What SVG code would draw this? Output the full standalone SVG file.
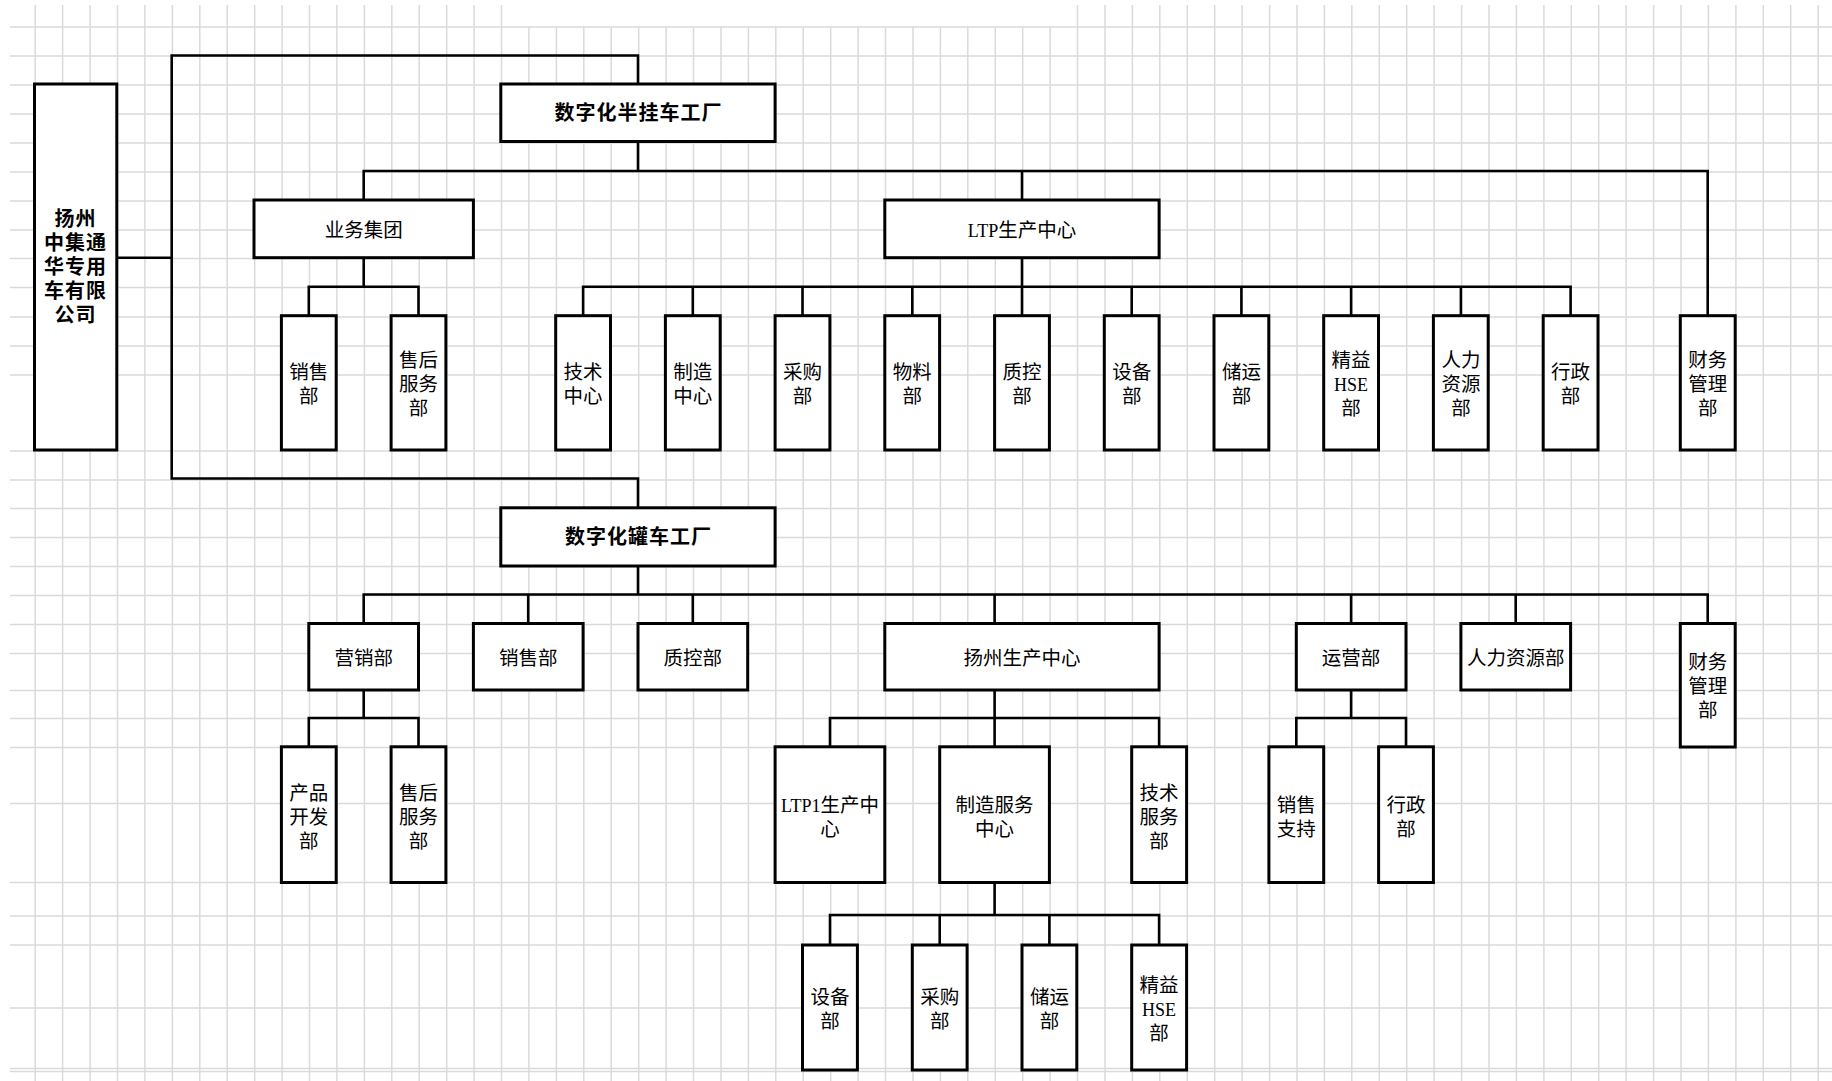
<svg xmlns="http://www.w3.org/2000/svg" width="1832" height="1081" viewBox="0 0 1832 1081">
<style>
.grid{fill:none;stroke:#dadada;stroke-width:1.5}
.node rect{fill:#fff;stroke:#000;stroke-width:3}
.conn path{fill:none;stroke:#000;stroke-width:2.6}
text{font-family:"Noto Sans CJK SC",sans-serif;font-size:19.5px;fill:#000;text-anchor:middle}
.lat{font-family:"Liberation Serif","Noto Sans CJK SC",serif;font-size:18px}
.b text{font-weight:bold;font-size:20px;letter-spacing:1px}
</style>
<rect x="0" y="0" width="1832" height="1081" fill="#fff"/>
<path class="grid" d="M35.2 5V1081M62.6 5V1081M90.1 5V1081M117.5 5V1081M144.9 5V1081M172.4 5V1081M199.8 5V1081M227.2 5V1081M254.7 5V1081M282.1 5V1081M309.5 5V1081M336.9 5V1081M364.4 5V1081M391.8 5V1081M419.2 5V1081M446.7 5V1081M474.1 5V1081M501.5 5V1081M528.9 27V1081M556.4 27V1081M583.8 27V1081M611.2 27V1081M638.7 27V1081M666.1 27V1081M693.5 27V1081M721 27V1081M748.4 27V1081M775.8 27V1081M803.2 27V1081M830.7 27V1081M858.1 27V1081M885.5 27V1081M913 27V1081M940.4 27V1081M967.8 27V1081M995.3 27V1081M1022.7 27V1081M1050.1 27V1081M1077.5 5V1081M1105 5V1081M1132.4 5V1081M1159.8 5V1081M1187.3 5V1081M1214.7 5V1081M1242.1 5V1081M1269.6 5V1081M1297 5V1081M1324.4 5V1081M1351.8 5V1081M1379.3 5V1081M1406.7 5V1081M1434.1 5V1081M1461.6 5V1081M1489 5V1081M1516.4 5V1081M1543.9 5V1081M1571.3 5V1081M1598.7 5V1081M1626.1 5V1081M1653.6 5V1081M1681 5V1081M1708.4 5V1081M1735.9 5V1081M1763.3 5V1081M1790.7 5V1081M1818.2 5V1081"/>
<path class="grid" d="M10 27H1832M10 56H1832M10 85H1832M10 114H1832M10 143H1832M10 172H1832M10 201H1832M10 230H1832M10 258.5H1832M10 287.5H1832M10 317H1832M10 346H1832M10 375H1832M10 451H1832M10 480H1832M10 508.5H1832M10 537.5H1832M10 566.5H1832M10 595.5H1832M10 624.5H1832M10 653.5H1832M10 690.5H1832M10 718.5H1832M10 747.5H1832M10 803.5H1832M10 882.5H1832M10 916H1832M10 945H1832M10 1008H1832M10 1068.5H1832M10 1071.5H1832"/>

<g class="conn" id="connectors">
<path d="M116.8 257.7H171.7"/>
<path d="M638 84V55.5H171.7V478.5H638V507.8"/>
<path d="M638 141.5V171"/>
<path d="M363.7 200V171H1707.7V315.7"/>
<path d="M1022 171V200"/>
<path d="M363.7 257.7V286.7"/>
<path d="M308.8 315.7V286.7H418.5V315.7"/>
<path d="M1022 257.7V286.7"/>
<path d="M583.1 315.7V286.7H1570.6V315.7"/>
<path d="M692.8 286.7V315.7M802.5 286.7V315.7M912.3 286.7V315.7M1022 286.7V315.7M1131.7 286.7V315.7M1241.4 286.7V315.7M1351.1 286.7V315.7M1460.9 286.7V315.7"/>
<path d="M638 566V594.5"/>
<path d="M363.7 623.5V594.5H1707.7V623.5"/>
<path d="M528.2 594.5V623.5M692.8 594.5V623.5M994.6 594.5V623.5M1351.1 594.5V623.5M1515.7 594.5V623.5"/>
<path d="M363.7 690V718"/>
<path d="M308.8 746.8V718H418.5V746.8"/>
<path d="M994.6 690V746.8"/>
<path d="M830 746.8V718H1159.1V746.8"/>
<path d="M994.6 882.5V915"/>
<path d="M830 945V915H1159.1V945"/>
<path d="M939.7 915V945M1049.4 915V945"/>
<path d="M1351.1 690V718"/>
<path d="M1296.3 746.8V718H1406V746.8"/>
</g>

<g class="node b" id="n-company"><rect x="34.5" y="84" width="82.3" height="366"/>
<text x="75.6" y="226">扬州<tspan x="75.6" dy="24">中集通</tspan><tspan x="75.6" dy="24">华专用</tspan><tspan x="75.6" dy="24">车有限</tspan><tspan x="75.6" dy="24">公司</tspan></text></g>

<g class="node b" id="n-semitrailer"><rect x="500.8" y="84" width="274.3" height="57.5"/><text x="638.5" y="120">数字化半挂车工厂</text></g>
<g class="node" id="n-business"><rect x="254" y="200" width="219.4" height="57.7"/><text x="363.7" y="236.5">业务集团</text></g>
<g class="node" id="n-ltp"><rect x="884.8" y="200" width="274.3" height="57.7"/><text x="1022" y="236.5"><tspan class="lat">LTP</tspan>生产中心</text></g>

<g class="node" id="n-sales1"><rect x="281.4" y="315.7" width="54.8" height="134.3"/><text x="308.8" y="378.7">销售<tspan x="308.8" dy="24">部</tspan></text></g>
<g class="node" id="n-aftersales1"><rect x="391.1" y="315.7" width="54.8" height="134.3"/><text x="418.5" y="366.7">售后<tspan x="418.5" dy="24">服务</tspan><tspan x="418.5" dy="24">部</tspan></text></g>

<g class="node" id="n-tech1"><rect x="555.7" y="315.7" width="54.8" height="134.3"/><text x="583.1" y="378.7">技术<tspan x="583.1" dy="24">中心</tspan></text></g>
<g class="node" id="n-mfg1"><rect x="665.4" y="315.7" width="54.8" height="134.3"/><text x="692.8" y="378.7">制造<tspan x="692.8" dy="24">中心</tspan></text></g>
<g class="node" id="n-purchase1"><rect x="775.1" y="315.7" width="54.8" height="134.3"/><text x="802.5" y="378.7">采购<tspan x="802.5" dy="24">部</tspan></text></g>
<g class="node" id="n-material1"><rect x="884.8" y="315.7" width="54.8" height="134.3"/><text x="912.3" y="378.7">物料<tspan x="912.3" dy="24">部</tspan></text></g>
<g class="node" id="n-qc1"><rect x="994.6" y="315.7" width="54.8" height="134.3"/><text x="1022" y="378.7">质控<tspan x="1022" dy="24">部</tspan></text></g>
<g class="node" id="n-equip1"><rect x="1104.3" y="315.7" width="54.8" height="134.3"/><text x="1131.7" y="378.7">设备<tspan x="1131.7" dy="24">部</tspan></text></g>
<g class="node" id="n-logistics1"><rect x="1214" y="315.7" width="54.8" height="134.3"/><text x="1241.4" y="378.7">储运<tspan x="1241.4" dy="24">部</tspan></text></g>
<g class="node" id="n-hse1"><rect x="1323.7" y="315.7" width="54.8" height="134.3"/><text x="1351.1" y="366.7">精益<tspan x="1351.1" dy="24" class="lat">HSE</tspan><tspan x="1351.1" dy="24">部</tspan></text></g>
<g class="node" id="n-hr1"><rect x="1433.4" y="315.7" width="54.8" height="134.3"/><text x="1460.9" y="366.7">人力<tspan x="1460.9" dy="24">资源</tspan><tspan x="1460.9" dy="24">部</tspan></text></g>
<g class="node" id="n-admin1"><rect x="1543.2" y="315.7" width="54.8" height="134.3"/><text x="1570.6" y="378.7">行政<tspan x="1570.6" dy="24">部</tspan></text></g>
<g class="node" id="n-finance1"><rect x="1680.3" y="315.7" width="54.9" height="134.3"/><text x="1707.7" y="366.7">财务<tspan x="1707.7" dy="24">管理</tspan><tspan x="1707.7" dy="24">部</tspan></text></g>

<g class="node b" id="n-tanker"><rect x="500.8" y="507.8" width="274.3" height="58.2"/><text x="638.5" y="544">数字化罐车工厂</text></g>

<g class="node" id="n-marketing"><rect x="308.8" y="623.5" width="109.7" height="66.5"/><text x="363.7" y="664.7">营销部</text></g>
<g class="node" id="n-sales2"><rect x="473.4" y="623.5" width="109.7" height="66.5"/><text x="528.2" y="664.7">销售部</text></g>
<g class="node" id="n-qc2"><rect x="638" y="623.5" width="109.7" height="66.5"/><text x="692.8" y="664.7">质控部</text></g>
<g class="node" id="n-yzprod"><rect x="884.8" y="623.5" width="274.3" height="66.5"/><text x="1022" y="664.7">扬州生产中心</text></g>
<g class="node" id="n-ops"><rect x="1296.3" y="623.5" width="109.7" height="66.5"/><text x="1351.1" y="664.7">运营部</text></g>
<g class="node" id="n-hr2"><rect x="1460.9" y="623.5" width="109.7" height="66.5"/><text x="1515.7" y="664.7">人力资源部</text></g>
<g class="node" id="n-finance2"><rect x="1680.3" y="623.5" width="54.9" height="123.5"/><text x="1707.7" y="669.3">财务<tspan x="1707.7" dy="24">管理</tspan><tspan x="1707.7" dy="24">部</tspan></text></g>

<g class="node" id="n-product"><rect x="281.4" y="746.8" width="54.8" height="135.7"/><text x="308.8" y="799.7">产品<tspan x="308.8" dy="24">开发</tspan><tspan x="308.8" dy="24">部</tspan></text></g>
<g class="node" id="n-aftersales2"><rect x="391.1" y="746.8" width="54.8" height="135.7"/><text x="418.5" y="799.7">售后<tspan x="418.5" dy="24">服务</tspan><tspan x="418.5" dy="24">部</tspan></text></g>

<g class="node" id="n-ltp1"><rect x="775.1" y="746.8" width="109.7" height="135.7"/><text x="830" y="811.5"><tspan class="lat">LTP1</tspan>生产中<tspan x="830" dy="24">心</tspan></text></g>
<g class="node" id="n-mfgsvc"><rect x="939.7" y="746.8" width="109.7" height="135.7"/><text x="994.6" y="811.5">制造服务<tspan x="994.6" dy="24">中心</tspan></text></g>
<g class="node" id="n-techsvc"><rect x="1131.7" y="746.8" width="54.9" height="135.7"/><text x="1159.1" y="799.7">技术<tspan x="1159.1" dy="24">服务</tspan><tspan x="1159.1" dy="24">部</tspan></text></g>

<g class="node" id="n-salessupport"><rect x="1268.9" y="746.8" width="54.8" height="135.7"/><text x="1296.3" y="811.5">销售<tspan x="1296.3" dy="24">支持</tspan></text></g>
<g class="node" id="n-admin2"><rect x="1378.6" y="746.8" width="54.8" height="135.7"/><text x="1406" y="811.5">行政<tspan x="1406" dy="24">部</tspan></text></g>

<g class="node" id="n-equip2"><rect x="802.5" y="945" width="54.9" height="125"/><text x="830" y="1003.7">设备<tspan x="830" dy="24">部</tspan></text></g>
<g class="node" id="n-purchase2"><rect x="912.3" y="945" width="54.8" height="125"/><text x="939.7" y="1003.7">采购<tspan x="939.7" dy="24">部</tspan></text></g>
<g class="node" id="n-logistics2"><rect x="1022" y="945" width="54.8" height="125"/><text x="1049.4" y="1003.7">储运<tspan x="1049.4" dy="24">部</tspan></text></g>
<g class="node" id="n-hse2"><rect x="1131.7" y="945" width="54.9" height="125"/><text x="1159.1" y="992">精益<tspan x="1159.1" dy="24" class="lat">HSE</tspan><tspan x="1159.1" dy="24">部</tspan></text></g>
</svg>
